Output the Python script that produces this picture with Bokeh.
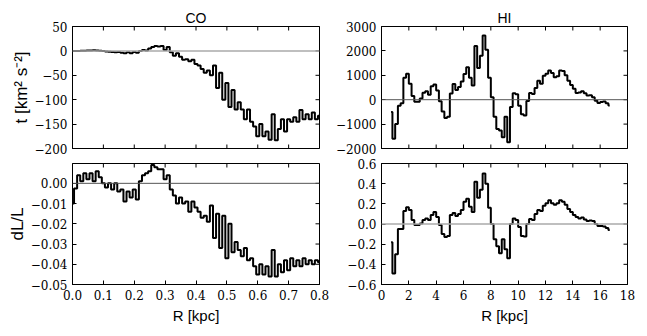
import math
from bokeh.plotting import figure
from bokeh.models import LinearAxis, FixedTicker, Span, Range1d
from bokeh.layouts import column, row
from bokeh.embed import file_html
from bokeh.resources import INLINE

# ---------------- data ----------------
CO_R = [0.00, 0.01, 0.02, 0.03, 0.04, 0.05, 0.06, 0.07, 0.08, 0.09,
        0.10, 0.11, 0.12, 0.13, 0.14, 0.15, 0.16, 0.17, 0.18, 0.19,
        0.20, 0.21, 0.22, 0.23, 0.24, 0.25, 0.26, 0.27, 0.28, 0.29,
        0.30, 0.31, 0.32, 0.33, 0.34, 0.35, 0.36, 0.37, 0.38, 0.39,
        0.40, 0.41, 0.42, 0.43, 0.44, 0.45, 0.46, 0.47, 0.48, 0.49,
        0.50, 0.51, 0.52, 0.53, 0.54, 0.55, 0.56, 0.57, 0.58, 0.59,
        0.60, 0.61, 0.62, 0.63, 0.64, 0.65, 0.66, 0.67, 0.68, 0.69,
        0.70, 0.71, 0.72, 0.73, 0.74, 0.75, 0.76, 0.77, 0.78, 0.79,
        0.80]
CO_T = [0, 0, 0, 0.5, 0.5, 1, 1, 1.5, 1, 0.5,
        0, -1, -1.5, -2, -3, -2.5, -4, -5, -3, -5,
        -2, -4, 0, 2, 1, 5, 8, 10, 9, 10,
        2, 8, -3, -10, -5, -12, -18, -17, -21, -18,
        -27, -30, -37, -45, -40, -50, -30, -76, -45, -100,
        -66, -115, -80, -120, -105, -120, -140, -120, -145, -155,
        -175, -150, -175, -165, -182, -130, -183, -160, -140, -165,
        -140, -145, -136, -145, -121, -140, -130, -140, -126, -140,
        -133]
CO_DL = [-0.010, -0.0025, 0.004, 0.001, 0.005, 0.002, 0.005, 0.001, 0.006, 0.003,
         0.000, -0.002, 0.000, -0.003, 0.000, -0.004, -0.003, -0.009, -0.004, -0.007,
         -0.003, -0.008, 0.001, 0.004, 0.005, 0.006, 0.009, 0.008, 0.007, 0.007,
         0.002, 0.004, -0.003, -0.006, -0.010, -0.007, -0.010, -0.009, -0.014, -0.009,
         -0.012, -0.014, -0.017, -0.016, -0.019, -0.011, -0.027, -0.015, -0.032, -0.016,
         -0.037, -0.020, -0.034, -0.029, -0.033, -0.036, -0.032, -0.038, -0.037, -0.041,
         -0.045, -0.040, -0.045, -0.041, -0.046, -0.033, -0.046, -0.040, -0.044, -0.038,
         -0.043, -0.037, -0.041, -0.038, -0.041, -0.037, -0.040, -0.038, -0.040, -0.038,
         -0.039]

HI_R = [0.7, 0.9, 1.1, 1.3, 1.5, 1.7, 1.9, 2.1, 2.3, 2.5,
        2.7, 2.9, 3.1, 3.3, 3.5, 3.7, 3.9, 4.1, 4.3, 4.5,
        4.7, 4.9, 5.1, 5.3, 5.5, 5.7, 5.9, 6.1, 6.3, 6.5,
        6.7, 6.9, 7.1, 7.3, 7.5, 7.7, 7.9, 8.1, 8.3, 8.5,
        8.7, 8.9, 9.1, 9.3, 9.5, 9.7, 9.9, 10.1, 10.3, 10.5,
        10.7, 10.9, 11.1, 11.3, 11.5, 11.7, 11.9, 12.1, 12.3, 12.5,
        12.7, 12.9, 13.1, 13.3, 13.5, 13.7, 13.9, 14.1, 14.3, 14.5,
        14.7, 14.9, 15.1, 15.3, 15.5, 15.7, 15.9, 16.1, 16.3, 16.5,
        16.7]
HI_T = [-500, -1600, -1000, -250, -150, 900, 1060, 650, 150, -80,
        -80, 50, 280, 350, 200, 550, 620, 380, -60, -480,
        -750, -700, 250, 640, 400, 520, 750, 1050, 1330, 900,
        580, 2200, 1300, 1800, 2630, 2050, 900, 100, -700, -1200,
        -1260, -1540, -700, -1740, -300, 260, 220, -250, -600, -650,
        -50, 270, 230, 480, 780, 650, 980, 1060, 1200, 1090,
        920, 960, 1200, 1180, 1000, 780, 600, 450, 270, 300,
        350, 260, 170, 180, 100, -40, -140, -90, -70, -150,
        -240]
HI_DL = [-0.18, -0.49, -0.30, -0.05, -0.05, 0.13, 0.165, 0.14, 0.04, -0.01,
         -0.01, 0.005, 0.04, 0.055, 0.04, 0.09, 0.12, 0.07, -0.01, -0.10,
         -0.13, -0.12, 0.09, 0.11, 0.08, 0.10, 0.14, 0.22, 0.25, 0.17,
         0.12, 0.42, 0.26, 0.34, 0.50, 0.40, 0.16, 0.00, -0.15, -0.22,
         -0.29, -0.15, -0.25, -0.34, 0.00, 0.055, 0.04, -0.03, -0.12, -0.125,
         0.00, 0.05, 0.04, 0.10, 0.14, 0.13, 0.18, 0.205, 0.235, 0.205,
         0.19, 0.205, 0.235, 0.22, 0.19, 0.15, 0.12, 0.09, 0.07, 0.055,
         0.065, 0.045, 0.03, 0.035, 0.03, 0.00, -0.02, -0.02, -0.025, -0.04,
         -0.06]

CO_X_TICKS = [0.0, 0.1, 0.2, 0.3, 0.4, 0.5, 0.6, 0.7, 0.8]
CO_X_LABELS = ["0.0", "0.1", "0.2", "0.3", "0.4", "0.5", "0.6", "0.7", "0.8"]
HI_X_TICKS = [0, 2, 4, 6, 8, 10, 12, 14, 16, 18]
HI_X_LABELS = ["0", "2", "4", "6", "8", "10", "12", "14", "16", "18"]
CO_T_TICKS = [-200, -150, -100, -50, 0, 50]
CO_T_LABELS = ["\u2212200", "\u2212150", "\u2212100", "\u221250", "0", "50"]
HI_T_TICKS = [-2000, -1000, 0, 1000, 2000, 3000]
HI_T_LABELS = ["\u22122000", "\u22121000", "0", "1000", "2000", "3000"]
CO_DL_TICKS = [-0.05, -0.04, -0.03, -0.02, -0.01, 0.0]
CO_DL_LABELS = ["\u22120.05", "\u22120.04", "\u22120.03", "\u22120.02", "\u22120.01", "0.00"]
HI_DL_TICKS = [-0.6, -0.4, -0.2, 0.0, 0.2, 0.4, 0.6]
HI_DL_LABELS = ["\u22120.6", "\u22120.4", "\u22120.2", "0.0", "0.2", "0.4", "0.6"]

TICK_FONT = "DejaVu Serif"
LABEL_FONT = "Liberation Sans"


def style_axis(ax, ticks, labels):
    ax.ticker = FixedTicker(ticks=ticks)
    ax.major_tick_in = 4
    ax.major_tick_out = 0
    ax.minor_tick_line_color = None
    ax.major_tick_line_color = "black"
    ax.axis_line_color = "black"
    ax.major_label_overrides = {t: l for t, l in zip(ticks, labels)}
    ax.major_label_text_font = TICK_FONT
    ax.major_label_text_font_size = "12px"
    ax.major_label_text_color = "black"
    ax.major_label_standoff = 5


def panel(width, height, xr, yr, xt, xl, yt, yl, show_x, ylabel, title,
          borders, zero_color, zero_width, xs, ys):
    bl, br, bt, bb = borders
    p = figure(width=width, height=height, x_range=Range1d(*xr), y_range=Range1d(*yr),
               output_backend="svg", toolbar_location=None,
               x_axis_location=None, y_axis_location=None)
    p.min_border_left = bl
    p.min_border_right = br
    p.min_border_top = bt
    p.min_border_bottom = bb
    p.grid.visible = False
    p.outline_line_color = "black"
    p.outline_line_width = 1
    p.background_fill_color = "white"
    p.border_fill_color = "white"

    if show_x:
        bottom = LinearAxis()
        style_axis(bottom, xt, xl)
        bottom.axis_label = "R [kpc]"
        bottom.axis_label_text_font = LABEL_FONT
        bottom.axis_label_text_font_size = "15px"
        bottom.axis_label_text_font_style = "normal"
        bottom.axis_label_text_color = "black"
        bottom.axis_label_standoff = 4
        p.add_layout(bottom, "below")
    else:
        p.scatter(xt, [yr[0]] * len(xt), marker="dash", size=8, angle=math.pi / 2,
                  line_color="black", line_width=1)

    left = LinearAxis()
    style_axis(left, yt, yl)
    if ylabel:
        left.axis_label = ylabel
        left.axis_label_text_font = LABEL_FONT
        left.axis_label_text_font_size = "17px"
        left.axis_label_text_font_style = "normal"
        left.axis_label_text_color = "black"
        left.axis_label_standoff = 1
    p.add_layout(left, "left")

    p.scatter(xt, [yr[1]] * len(xt), marker="dash", size=8, angle=math.pi / 2,
              line_color="black", line_width=1)
    p.scatter([xr[1]] * len(yt), yt, marker="dash", size=8,
              line_color="black", line_width=1)

    if title:
        p.title.text = title
        p.title.align = "center"
        p.title.text_font = LABEL_FONT
        p.title.text_font_size = "14px"
        p.title.text_font_style = "normal"
        p.title.text_color = "black"
        p.title.standoff = 2

    p.add_layout(Span(location=0, dimension="width", line_color=zero_color,
                      line_width=zero_width))
    p.step(xs, ys, mode="center", line_color="black", line_width=2)
    return p


W1, W2 = 329, 310
H1, H2 = 155, 171

p1 = panel(W1, H1, (0, 0.8), (-200, 50), CO_X_TICKS, CO_X_LABELS, CO_T_TICKS, CO_T_LABELS,
           False, "t [km\u00b2 s\u207b\u00b2]", "CO", (72, 10, 26, 7), "#aaaaaa", 1.5, CO_R, CO_T)
p2 = panel(W2, H1, (0, 18), (-2000, 3000), HI_X_TICKS, HI_X_LABELS, HI_T_TICKS, HI_T_LABELS,
           False, None, "HI", (52, 12, 26, 7), "#555555", 1, HI_R, HI_T)
p3 = panel(W1, H2, (0, 0.8), (-0.05, 0.0098), CO_X_TICKS, CO_X_LABELS, CO_DL_TICKS, CO_DL_LABELS,
           True, "dL/L", None, (72, 10, 8, 40), "#555555", 1, CO_R, CO_DL)
p4 = panel(W2, H2, (0, 18), (-0.6, 0.6), HI_X_TICKS, HI_X_LABELS, HI_DL_TICKS, HI_DL_LABELS,
           True, None, None, (52, 12, 8, 40), "#aaaaaa", 1.5, HI_R, HI_DL)

layout = column(row(p1, p2), row(p3, p4))

open("out.html", "w").write(file_html(layout, INLINE))
